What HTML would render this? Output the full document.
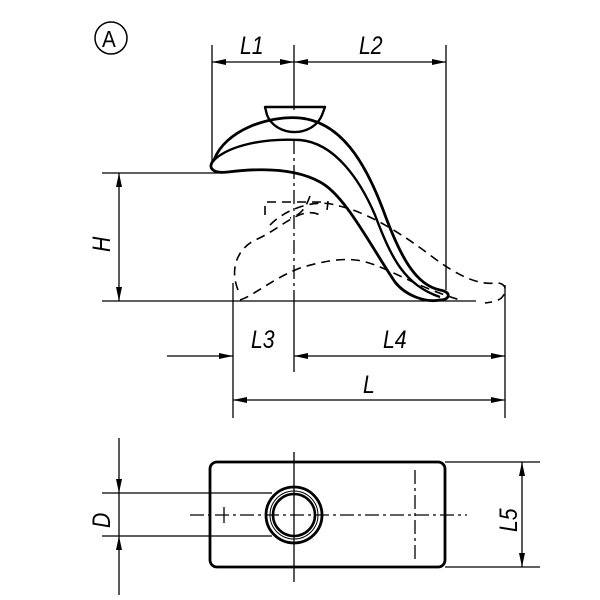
<!DOCTYPE html>
<html><head><style>body{margin:0;background:#fff}svg{display:block}text{font-family:"Liberation Sans",sans-serif;font-style:italic;font-size:25px;fill:#000}</style></head>
<body>
<svg width="600" height="600" viewBox="0 0 600 600" xmlns="http://www.w3.org/2000/svg">
<defs>
<marker id="a" viewBox="0 0 14 6" refX="14" refY="3" markerWidth="14" markerHeight="6" orient="auto-start-reverse" markerUnits="userSpaceOnUse"><path d="M0,0L14,3L0,6z" fill="#000"/></marker>
</defs>
<g stroke="#000" fill="none">
<circle cx="111" cy="38" r="16" stroke-width="1.5"/>
<g stroke-width="1.3">
<line x1="212" y1="45" x2="212" y2="165"/>
<line x1="446" y1="45" x2="446" y2="290"/>
<line x1="294" y1="45" x2="294" y2="110"/>
<line x1="212" y1="62" x2="294" y2="62" marker-start="url(#a)" marker-end="url(#a)"/>
<line x1="294" y1="62" x2="446" y2="62" marker-start="url(#a)" marker-end="url(#a)"/>
<line x1="102" y1="173" x2="222" y2="173"/>
<line x1="102" y1="301" x2="476" y2="301"/>
<line x1="119" y1="173" x2="119" y2="301" marker-start="url(#a)" marker-end="url(#a)"/>
<line x1="233" y1="283" x2="233" y2="418"/>
<line x1="505" y1="285" x2="505" y2="418"/>
<line x1="167" y1="356" x2="233" y2="356" marker-end="url(#a)"/>
<line x1="294" y1="356" x2="505" y2="356" marker-start="url(#a)" marker-end="url(#a)"/>
<line x1="294" y1="300" x2="294" y2="372"/>
<line x1="233" y1="400" x2="505" y2="400" marker-start="url(#a)" marker-end="url(#a)"/>
<line x1="294" y1="140" x2="294" y2="300" stroke-dasharray="14,4,3,4"/>
<line x1="119" y1="438" x2="119" y2="493" marker-end="url(#a)"/>
<line x1="119" y1="595" x2="119" y2="536" marker-end="url(#a)"/>
<line x1="119" y1="493" x2="119" y2="536"/>
<line x1="102" y1="493" x2="272" y2="493"/>
<line x1="102" y1="536" x2="272" y2="536"/>
<line x1="445" y1="462" x2="540" y2="462"/>
<line x1="445" y1="567" x2="540" y2="567"/>
<line x1="522" y1="462" x2="522" y2="567" marker-start="url(#a)" marker-end="url(#a)"/>
<line x1="294" y1="452" x2="294" y2="582"/>
<line x1="190" y1="515" x2="467" y2="515" stroke-dasharray="14,4,3,4"/>
<line x1="415" y1="470" x2="415" y2="560" stroke-dasharray="14,4,3,4"/>
<line x1="224" y1="507" x2="224" y2="523"/>
</g>
<g stroke-width="2.8" stroke-linejoin="round">
<path d="M265,107 L325,107 L322,115 A29,25 0 0 1 267,115 Z" stroke-width="2.4"/>
<path d="M214,160 C225,130 270,115 300,118 C340,122 365,160 385,215 C400,255 415,285 440,290 C452,292 450,300 440,300 C425,303 405,295 395,282 C370,245 345,195 320,182 C295,168 260,168 228,172 C210,174 208,166 214,160 Z"/>
<path d="M214,160 C230,145 265,138 300,140 C335,143 360,180 375,215 C392,260 405,285 440,297" stroke-width="2.4"/>
</g>
<g stroke-width="1.6" stroke-dasharray="9,6">
<path d="M265,215 L265,202 L328,202 L327,210"/>
<path d="M270,225 C290,205 320,200 335,205 C360,210 390,225 430,255 C460,278 480,285 495,283 C505,282 508,290 503,296 C500,301 492,302 485,303"/>
<path d="M238,290 C230,270 236,250 255,240 C280,230 300,205 320,215"/>
<path d="M240,300 C255,295 270,280 300,268 C320,262 340,258 355,260 C380,262 410,285 460,300"/>
<path d="M310,196 C305,210 300,215 290,218"/>
</g>
<rect x="210" y="462" width="235" height="105" rx="7" stroke-width="2.8"/>
<circle cx="294" cy="515" r="28" stroke-width="2.8"/>
<circle cx="294" cy="515" r="24" stroke-width="1"/>
<circle cx="294" cy="515" r="21" stroke-width="2.6"/>
</g>
<text x="102" y="47" style="font-style:normal;font-size:23px" transform="translate(102,0) scale(0.9,1) translate(-102,0)">A</text>
<text x="240" y="54" transform="translate(240,0) scale(0.85,1) translate(-240,0)">L1</text>
<text x="359" y="54" transform="translate(359,0) scale(0.85,1) translate(-359,0)">L2</text>
<text x="251" y="348" transform="translate(251,0) scale(0.85,1) translate(-251,0)">L3</text>
<text x="383" y="348" transform="translate(383,0) scale(0.85,1) translate(-383,0)">L4</text>
<text x="363" y="393" transform="translate(363,0) scale(0.85,1) translate(-363,0)">L</text>
<text transform="translate(110,252) rotate(-90) scale(0.85,1)">H</text>
<text transform="translate(110,528) rotate(-90) scale(0.85,1)">D</text>
<text transform="translate(517,532) rotate(-90) scale(0.85,1)">L5</text>
</svg>
</body></html>
